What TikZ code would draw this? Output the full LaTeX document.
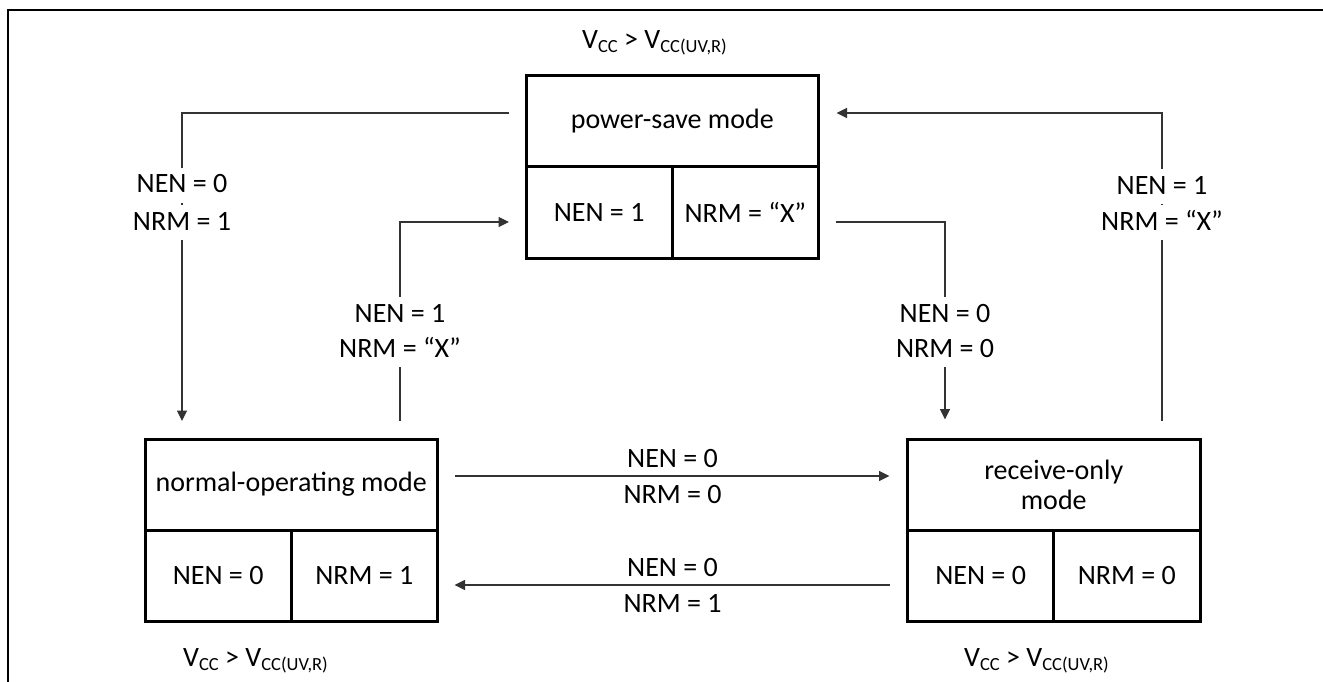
\documentclass[tikz,border=0pt]{standalone}
\usepackage{fontspec}
\setmainfont{Carlito}
\usetikzlibrary{arrows.meta}
\newcommand{\vsub}[1]{\raisebox{-3.5pt}{\fontsize{18.5}{20}\selectfont #1}}
\newcommand{\vcond}{V\vsub{CC} > V\vsub{CC(UV,R)}}
\begin{document}
\begin{tikzpicture}[x=1pt,y=-1pt,
  every node/.style={font=\fontsize{28}{32}\selectfont},
  box/.style={draw, line width=3pt, rectangle, outer sep=0pt, inner sep=2pt, minimum height=91pt, align=center},
  topbox/.style={box, minimum width=292.5pt},
  cellbox/.style={box, minimum width=146.25pt},
  conn/.style={draw=black!80, line width=1.2pt, -{Triangle[length=10.5pt,width=10pt]}},
  lbl/.style={fill=white, inner xsep=2pt, inner ysep=4pt, text height=21pt, text depth=6pt, anchor=base},
  mlbl/.style={inner sep=0pt, anchor=base},
  cond/.style={inner sep=0pt, anchor=base west}]
\useasboundingbox (0,0) rectangle (1323,682);
% frame
\draw[line width=1.2pt] (1323,10) -- (8,10) -- (8,682);
% helper coordinates
\coordinate (yA) at (0,113);
\coordinate (yB) at (0,222);
\coordinate (yC) at (0,476);
\coordinate (yD) at (0,585);
\coordinate (xA) at (182,0);
\coordinate (xB) at (400,0);
\coordinate (xC) at (945,0);
\coordinate (xD) at (1162,0);
% power-save mode
\node[topbox] (ps-top) at (672.25,121.5) {power-save mode};
\node[cellbox] (ps-l) at (599.125,212.5) {NEN = 1};
\node[cellbox] (ps-r) at (745.375,212.5) {NRM = “X”};
% normal-operating mode
\node[topbox] (no-top) at (291.25,484.5) {normal-operating mode};
\node[cellbox] (no-l) at (218.125,575.5) {NEN = 0};
\node[cellbox] (no-r) at (364.375,575.5) {NRM = 1};
% receive-only mode
\node[topbox] (ro-top) at (1053.75,485) {receive-only\\[-2pt]mode};
\node[cellbox] (ro-l) at (980.625,575.5) {NEN = 0};
\node[cellbox] (ro-r) at (1126.875,575.5) {NRM = 0};
% conditions
\node[cond] (c-ps) at (582,49) {\vcond};
\node[cond] (c-no) at (183,666.5) {\vcond};
\node[cond] (c-ro) at (964,666.5) {\vcond};
% connectors
\draw[conn, shorten <=17pt, shorten >=18pt] (ps-top.west |- yA) -| (no-top.north -| xA);
\draw[conn, shorten <=18pt, shorten >=17pt] (no-top.north -| xB) |- (ps-l.west |- yB);
\draw[conn, shorten <=17pt, shorten >=18pt] (no-top.east |- yC) -- (ro-top.west |- yC);
\draw[conn, shorten <=18pt, shorten >=17pt] (ro-l.west |- yD) -- (no-r.east |- yD);
\draw[conn, shorten <=17pt, shorten >=20pt] (ps-r.east |- yB) -| (ro-top.north -| xC);
\draw[conn, shorten <=19pt, shorten >=18pt] (ro-top.north -| xD) |- (ps-top.east |- yA);
% connector labels
\node[lbl] (l1a) at (182,193) {NEN = 0};
\node[lbl] (l1b) at (182,230) {NRM = 1};
\node[lbl] (l2a) at (400,322) {NEN = 1};
\node[lbl] (l2b) at (400,357) {NRM = “X”};
\node[lbl] (l5a) at (945,322) {NEN = 0};
\node[lbl] (l5b) at (945,357) {NRM = 0};
\node[lbl] (l6a) at (1162,194) {NEN = 1};
\node[lbl] (l6b) at (1162,230) {NRM = “X”};
\node[mlbl] (l3a) at (672.5,467) {NEN = 0};
\node[mlbl] (l3b) at (672.5,503) {NRM = 0};
\node[mlbl] (l4a) at (672.5,576) {NEN = 0};
\node[mlbl] (l4b) at (672.5,612) {NRM = 1};
\end{tikzpicture}
\end{document}
